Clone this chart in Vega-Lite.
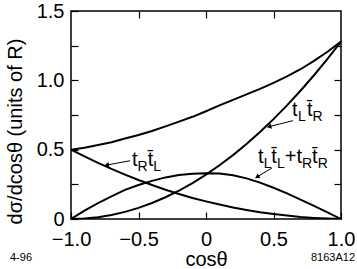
{
  "$schema": "https://vega.github.io/schema/vega-lite/v6.json",
  "width": 270,
  "height": 208,
  "autosize": {"type": "none"},
  "padding": {"left": 71, "top": 11, "right": 16, "bottom": 50},
  "background": "white",
  "config": {
    "view": {"stroke": "black", "strokeWidth": 1.5},
    "font": "Liberation Sans",
    "axis": {"grid": false, "domain": false, "tickColor": "black", "tickWidth": 1.2, "labelColor": "black", "titleColor": "black", "titleFontWeight": "normal", "labelFont": "Liberation Sans", "titleFont": "Liberation Sans"}
  },
  "datasets": {
    "curves": [
      {"c": -1.0, "v": 0.0, "s": "tLtbR"}, {"c": -0.9, "v": 0.0032, "s": "tLtbR"}, {"c": -0.8, "v": 0.0128, "s": "tLtbR"}, {"c": -0.7, "v": 0.0288, "s": "tLtbR"}, {"c": -0.6, "v": 0.0512, "s": "tLtbR"}, {"c": -0.5, "v": 0.08, "s": "tLtbR"}, {"c": -0.4, "v": 0.1152, "s": "tLtbR"}, {"c": -0.3, "v": 0.1568, "s": "tLtbR"}, {"c": -0.2, "v": 0.2048, "s": "tLtbR"}, {"c": -0.1, "v": 0.2592, "s": "tLtbR"}, {"c": 0.0, "v": 0.32, "s": "tLtbR"}, {"c": 0.1, "v": 0.3872, "s": "tLtbR"}, {"c": 0.2, "v": 0.4608, "s": "tLtbR"}, {"c": 0.3, "v": 0.5408, "s": "tLtbR"}, {"c": 0.4, "v": 0.6272, "s": "tLtbR"}, {"c": 0.5, "v": 0.72, "s": "tLtbR"}, {"c": 0.6, "v": 0.8192, "s": "tLtbR"}, {"c": 0.7, "v": 0.9248, "s": "tLtbR"}, {"c": 0.8, "v": 1.0368, "s": "tLtbR"}, {"c": 0.9, "v": 1.1552, "s": "tLtbR"}, {"c": 1.0, "v": 1.28, "s": "tLtbR"},
      {"c": -1.0, "v": 0.5, "s": "tRtbL"}, {"c": -0.9, "v": 0.451, "s": "tRtbL"}, {"c": -0.8, "v": 0.405, "s": "tRtbL"}, {"c": -0.7, "v": 0.361, "s": "tRtbL"}, {"c": -0.6, "v": 0.32, "s": "tRtbL"}, {"c": -0.5, "v": 0.281, "s": "tRtbL"}, {"c": -0.4, "v": 0.245, "s": "tRtbL"}, {"c": -0.3, "v": 0.211, "s": "tRtbL"}, {"c": -0.2, "v": 0.18, "s": "tRtbL"}, {"c": -0.1, "v": 0.151, "s": "tRtbL"}, {"c": 0.0, "v": 0.127, "s": "tRtbL"}, {"c": 0.1, "v": 0.104, "s": "tRtbL"}, {"c": 0.2, "v": 0.083, "s": "tRtbL"}, {"c": 0.3, "v": 0.065, "s": "tRtbL"}, {"c": 0.4, "v": 0.049, "s": "tRtbL"}, {"c": 0.5, "v": 0.036, "s": "tRtbL"}, {"c": 0.6, "v": 0.025, "s": "tRtbL"}, {"c": 0.7, "v": 0.015, "s": "tRtbL"}, {"c": 0.8, "v": 0.008, "s": "tRtbL"}, {"c": 0.9, "v": 0.003, "s": "tRtbL"}, {"c": 1.0, "v": 0.0, "s": "tRtbL"},
      {"c": -1.0, "v": 0.0, "s": "same"}, {"c": -0.9, "v": 0.06, "s": "same"}, {"c": -0.8, "v": 0.115, "s": "same"}, {"c": -0.7, "v": 0.163, "s": "same"}, {"c": -0.6, "v": 0.21, "s": "same"}, {"c": -0.5, "v": 0.245, "s": "same"}, {"c": -0.4, "v": 0.275, "s": "same"}, {"c": -0.3, "v": 0.3, "s": "same"}, {"c": -0.2, "v": 0.317, "s": "same"}, {"c": -0.1, "v": 0.327, "s": "same"}, {"c": 0.0, "v": 0.33, "s": "same"}, {"c": 0.1, "v": 0.328, "s": "same"}, {"c": 0.2, "v": 0.315, "s": "same"}, {"c": 0.3, "v": 0.293, "s": "same"}, {"c": 0.4, "v": 0.262, "s": "same"}, {"c": 0.5, "v": 0.225, "s": "same"}, {"c": 0.6, "v": 0.185, "s": "same"}, {"c": 0.7, "v": 0.14, "s": "same"}, {"c": 0.8, "v": 0.095, "s": "same"}, {"c": 0.9, "v": 0.048, "s": "same"}, {"c": 1.0, "v": 0.0, "s": "same"},
      {"c": -1.0, "v": 0.5, "s": "total"}, {"c": -0.9, "v": 0.514, "s": "total"}, {"c": -0.8, "v": 0.533, "s": "total"}, {"c": -0.7, "v": 0.553, "s": "total"}, {"c": -0.6, "v": 0.581, "s": "total"}, {"c": -0.5, "v": 0.606, "s": "total"}, {"c": -0.4, "v": 0.635, "s": "total"}, {"c": -0.3, "v": 0.668, "s": "total"}, {"c": -0.2, "v": 0.702, "s": "total"}, {"c": -0.1, "v": 0.737, "s": "total"}, {"c": 0.0, "v": 0.777, "s": "total"}, {"c": 0.1, "v": 0.819, "s": "total"}, {"c": 0.2, "v": 0.859, "s": "total"}, {"c": 0.3, "v": 0.899, "s": "total"}, {"c": 0.4, "v": 0.938, "s": "total"}, {"c": 0.5, "v": 0.981, "s": "total"}, {"c": 0.6, "v": 1.029, "s": "total"}, {"c": 0.7, "v": 1.08, "s": "total"}, {"c": 0.8, "v": 1.14, "s": "total"}, {"c": 0.9, "v": 1.206, "s": "total"}, {"c": 1.0, "v": 1.28, "s": "total"}
    ],
    "arrows": [
      {"a": "a1", "c": 0.644, "v": 0.709, "c2": 0.467, "v2": 0.666},
      {"a": "a2", "c": 0.489, "v": 0.368, "c2": 0.378, "v2": 0.303},
      {"a": "a3", "c": -0.563, "v": 0.42, "c2": -0.736, "v2": 0.389}
    ],
    "labels": [
      {"c": 0.637, "v": 0.743, "t": "t", "k": "main"},
      {"c": 0.681, "v": 0.707, "t": "L", "k": "sub"},
      {"c": 0.748, "v": 0.743, "t": "t̄", "k": "main"},
      {"c": 0.789, "v": 0.707, "t": "R", "k": "sub"},
      {"c": 0.385, "v": 0.404, "t": "t", "k": "main"},
      {"c": 0.427, "v": 0.368, "t": "L", "k": "sub"},
      {"c": 0.484, "v": 0.404, "t": "t̄", "k": "main"},
      {"c": 0.526, "v": 0.368, "t": "L", "k": "sub"},
      {"c": 0.584, "v": 0.404, "t": "+", "k": "main"},
      {"c": 0.67, "v": 0.404, "t": "t", "k": "main"},
      {"c": 0.712, "v": 0.368, "t": "R", "k": "sub"},
      {"c": 0.786, "v": 0.404, "t": "t̄", "k": "main"},
      {"c": 0.828, "v": 0.368, "t": "R", "k": "sub"},
      {"c": -0.548, "v": 0.382, "t": "t", "k": "main"},
      {"c": -0.507, "v": 0.346, "t": "R", "k": "sub"},
      {"c": -0.432, "v": 0.382, "t": "t̄", "k": "main"},
      {"c": -0.39, "v": 0.346, "t": "L", "k": "sub"}
    ],
    "notes": [
      {"c": -1.452, "v": -0.303, "t": "4-96", "side": "left"},
      {"c": 1.104, "v": -0.303, "t": "8163A12", "side": "right"}
    ]
  },
  "layer": [
    {
      "data": {"name": "curves"},
      "mark": {"type": "line", "color": "black", "strokeWidth": 2, "clip": true},
      "encoding": {
        "x": {"field": "c", "type": "quantitative", "scale": {"domain": [-1, 1], "nice": false},
          "axis": {"orient": "bottom", "values": [-1, -0.5, 0, 0.5, 1], "labelExpr": "datum.value==0?'0':format(datum.value,'.1f')", "tickSize": -7, "labelFontSize": 20, "labelPadding": 17, "labelFlush": false, "title": "cosθ", "titleFontSize": 20, "titlePadding": 0}},
        "y": {"field": "v", "type": "quantitative", "scale": {"domain": [0, 1.5], "nice": false},
          "axis": {"orient": "left", "values": [0, 0.25, 0.5, 0.75, 1, 1.25, 1.5], "labelExpr": "datum.value==0?'0':(datum.value*2==floor(datum.value*2)?format(datum.value,'.1f'):'')", "tickSize": -7, "labelFontSize": 20, "labelPadding": 14, "labelFlush": false, "title": "dσ/dcosθ  (units of R)", "titleFontSize": 20, "titleAngle": -90, "titleX": -56, "titleY": 120, "titleAlign": "center", "titleBaseline": "middle"}},
        "detail": {"field": "s", "type": "nominal"}
      }
    },
    {
      "data": {"name": "arrows"},
      "mark": {"type": "rule", "color": "black", "strokeWidth": 1},
      "encoding": {
        "x": {"field": "c", "type": "quantitative", "axis": {"orient": "top", "values": [-0.5, 0, 0.5], "labels": false, "tickSize": -7, "title": null}},
        "y": {"field": "v", "type": "quantitative", "axis": {"orient": "right", "values": [0.25, 0.5, 0.75, 1, 1.25], "labels": false, "tickSize": -7, "title": null}},
        "x2": {"field": "c2"},
        "y2": {"field": "v2"}
      }
    },
    {
      "data": {"name": "arrows"},
      "transform": [{"filter": "datum.a=='a1'"}],
      "mark": {"type": "point", "shape": "triangle-left", "filled": true, "color": "black", "size": 30, "angle": 346, "opacity": 1},
      "encoding": {
        "x": {"field": "c2", "type": "quantitative", "axis": null},
        "y": {"field": "v2", "type": "quantitative", "axis": null}
      }
    },
    {
      "data": {"name": "arrows"},
      "transform": [{"filter": "datum.a=='a2'"}],
      "mark": {"type": "point", "shape": "triangle-left", "filled": true, "color": "black", "size": 30, "angle": 329, "opacity": 1},
      "encoding": {
        "x": {"field": "c2", "type": "quantitative", "axis": null},
        "y": {"field": "v2", "type": "quantitative", "axis": null}
      }
    },
    {
      "data": {"name": "arrows"},
      "transform": [{"filter": "datum.a=='a3'"}],
      "mark": {"type": "point", "shape": "triangle-left", "filled": true, "color": "black", "size": 30, "angle": 350, "opacity": 1},
      "encoding": {
        "x": {"field": "c2", "type": "quantitative", "axis": null},
        "y": {"field": "v2", "type": "quantitative", "axis": null}
      }
    },
    {
      "data": {"name": "labels"},
      "mark": {"type": "text", "align": "left", "baseline": "alphabetic", "color": "black", "font": "Liberation Sans"},
      "encoding": {
        "x": {"field": "c", "type": "quantitative", "axis": null},
        "y": {"field": "v", "type": "quantitative", "axis": null},
        "text": {"field": "t"},
        "size": {"field": "k", "type": "nominal", "scale": {"domain": ["main", "sub"], "range": [20, 14]}, "legend": null}
      }
    },
    {
      "data": {"name": "notes"},
      "transform": [{"filter": "datum.side=='left'"}],
      "mark": {"type": "text", "align": "left", "baseline": "alphabetic", "color": "black", "fontSize": 11, "font": "Liberation Sans"},
      "encoding": {
        "x": {"field": "c", "type": "quantitative", "axis": null},
        "y": {"field": "v", "type": "quantitative", "axis": null},
        "text": {"field": "t"}
      }
    },
    {
      "data": {"name": "notes"},
      "transform": [{"filter": "datum.side=='right'"}],
      "mark": {"type": "text", "align": "right", "baseline": "alphabetic", "color": "black", "fontSize": 11, "font": "Liberation Sans"},
      "encoding": {
        "x": {"field": "c", "type": "quantitative", "axis": null},
        "y": {"field": "v", "type": "quantitative", "axis": null},
        "text": {"field": "t"}
      }
    }
  ],
  "resolve": {"axis": {"x": "independent", "y": "independent"}}
}
